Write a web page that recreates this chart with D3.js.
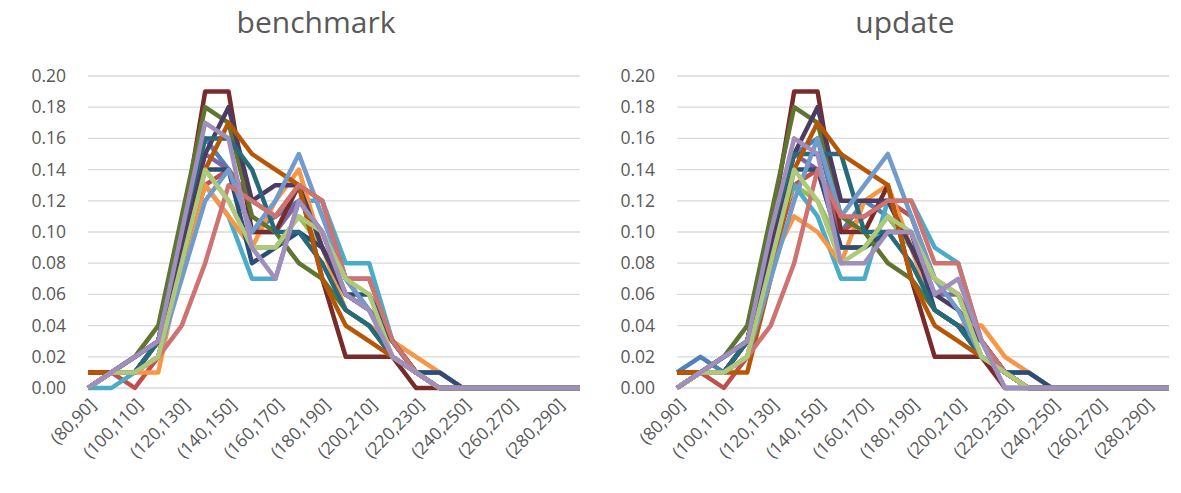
<!DOCTYPE html>
<html><head><meta charset="utf-8">
<script src="https://cdn.jsdelivr.net/npm/d3@7"></script>
<style>body{margin:0;background:#fff}text{font-family:"Open Sans",sans-serif}</style>
</head><body><svg id="c" width="1181" height="493"></svg>
<script>
// categories (80,90] .. (290,300]
var categories = d3.range(80, 300, 10).map(function(a){ return "(" + a + "," + (a + 10) + "]"; });
var yTicks = [0, .02, .04, .06, .08, .10, .12, .14, .16, .18, .20];
var colors = ["#4F81BD","#C0504D","#9BBB59","#8064A2","#4BACC6","#F79646","#2C4D75","#772C2A",
              "#5F7530","#4D3B62","#276A7C","#B65708","#729ACA","#CD7371","#AFC97A","#A08EBC"];

function pad(a){ while (a.length < 22) a.push(0); return a; }

var benchmark = [
  [0,.01,.01,.03,.10,.16,.14,.10,.11,.12,.10,.06,.05,.03,.01,.01],
  [.01,.01,0,.02,.08,.13,.14,.12,.11,.13,.12,.07,.07,.03,.01,0],
  [0,.01,.01,.03,.09,.14,.12,.09,.09,.11,.09,.06,.05,.02,.01,0],
  [0,.01,.02,.03,.10,.15,.14,.10,.10,.12,.10,.07,.05,.03,.01,0],
  [0,0,.01,.03,.10,.13,.11,.07,.07,.12,.12,.08,.08,.03,.01,0],
  [0,.01,.01,.01,.08,.13,.11,.09,.12,.14,.09,.05,.04,.03,.02,.01],
  [0,.01,.02,.03,.10,.14,.14,.08,.09,.10,.09,.06,.06,.03,.01,.01],
  [.01,.01,.01,.03,.10,.19,.19,.10,.10,.13,.07,.02,.02,.02,0,0],
  [0,.01,.02,.04,.11,.18,.17,.11,.10,.08,.07,.05,.04,.02,.01,0],
  [0,.01,.01,.03,.09,.15,.18,.12,.13,.13,.09,.06,.05,.03,.01,0],
  [0,.01,.01,.03,.10,.16,.16,.14,.10,.10,.08,.05,.04,.02,.01,0],
  [.01,.01,.01,.02,.08,.14,.17,.15,.14,.13,.07,.04,.03,.02,.01,0],
  [0,.01,.01,.02,.07,.12,.14,.10,.12,.15,.11,.07,.05,.02,.01,0],
  [0,.01,.01,.02,.04,.08,.13,.12,.11,.13,.12,.07,.07,.03,.01,0],
  [0,.01,.01,.02,.08,.14,.12,.09,.09,.11,.10,.07,.06,.02,.01,0],
  [0,.01,.02,.03,.10,.17,.16,.09,.07,.12,.10,.06,.05,.02,.01,0]
].map(pad);

var update = [
  [.01,.02,.01,.03,.09,.15,.16,.10,.12,.11,.09,.05,.04,.02,.01,.01],
  [.01,.01,0,.02,.08,.13,.14,.10,.11,.12,.11,.07,.06,.03,.01,0],
  [0,.01,.01,.03,.09,.13,.12,.09,.09,.11,.09,.07,.06,.02,.01,0],
  [0,.01,.02,.03,.10,.15,.14,.09,.09,.10,.10,.06,.06,.03,.01,0],
  [0,.01,.01,.03,.10,.13,.11,.07,.07,.12,.12,.09,.08,.03,0,0],
  [0,.01,.01,.02,.08,.11,.10,.08,.12,.13,.09,.05,.04,.04,.02,.01],
  [0,.01,.02,.03,.10,.14,.14,.09,.09,.10,.10,.05,.04,.03,.01,.01],
  [.01,.01,.01,.03,.10,.19,.19,.10,.10,.13,.07,.02,.02,.02,0,0],
  [0,.01,.02,.04,.11,.18,.17,.11,.10,.08,.07,.05,.04,.02,.01,0],
  [0,.01,.01,.03,.09,.15,.18,.12,.12,.12,.09,.06,.05,.03,.01,0],
  [0,.01,.01,.03,.10,.15,.15,.15,.10,.10,.08,.05,.04,.02,.01,0],
  [.01,.01,.01,.01,.07,.14,.17,.15,.14,.13,.07,.04,.03,.02,.01,0],
  [0,.01,.01,.02,.07,.12,.16,.11,.13,.15,.11,.07,.05,.02,.01,0],
  [0,.01,.01,.02,.04,.08,.14,.11,.11,.12,.12,.08,.08,.03,.01,0],
  [0,.01,.01,.02,.08,.14,.12,.08,.09,.11,.10,.07,.06,.02,.01,0],
  [0,.01,.02,.03,.10,.16,.15,.08,.08,.10,.10,.06,.07,.03,0,0]
].map(pad);

var svg = d3.select("#c");

function panel(x0, title, series) {
  var x = d3.scalePoint().domain(categories).range([x0, x0 + 492]);
  var y = d3.scaleLinear().domain([0, 0.2]).range([388, 76]);
  var g = svg.append("g");

  g.selectAll(".grid").data(yTicks).enter().append("line")
    .attr("x1", x0).attr("x2", x0 + 492)
    .attr("y1", function(d){ return y(d); }).attr("y2", function(d){ return y(d); })
    .attr("stroke", "#d9d9d9").attr("stroke-width", 1.3);

  g.selectAll(".yl").data(yTicks).enter().append("text")
    .attr("x", x0 - 22).attr("y", function(d){ return y(d) + 6; })
    .attr("text-anchor", "end").attr("font-size", 17.5).attr("fill", "#595959")
    .text(function(d){ return d.toFixed(2); });

  g.selectAll(".xl").data(categories.filter(function(d, i){ return i % 2 == 0; })).enter().append("text")
    .attr("transform", function(d){ return "translate(" + (x(d) + 9) + ",406) rotate(-45)"; })
    .attr("text-anchor", "end").attr("font-size", 17.5).attr("fill", "#595959")
    .text(function(d){ return d; });

  g.append("text").attr("x", x0 + 228).attr("y", 33).attr("text-anchor", "middle")
    .attr("font-size", 30).attr("fill", "#595959").text(title);

  var line = d3.line().x(function(d, i){ return x(categories[i]); }).y(function(d){ return y(d); });
  series.forEach(function(s, k) {
    g.append("path").attr("d", line(s)).attr("fill", "none")
      .attr("stroke", colors[k]).attr("stroke-width", 4.5).attr("stroke-linejoin", "round");
  });
}

panel(88, "benchmark", benchmark);
panel(677, "update", update);
</script></body></html>
